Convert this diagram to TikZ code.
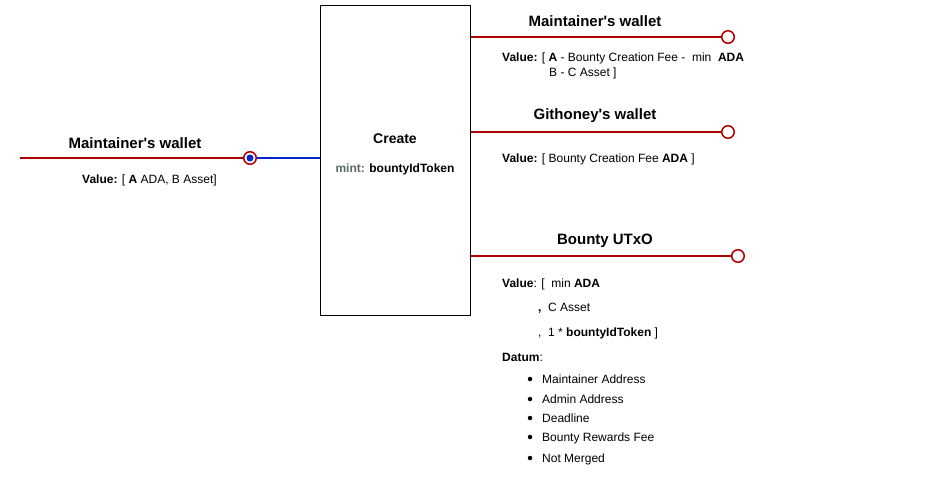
\documentclass[tikz,border=0pt]{standalone}
\usepackage{fontspec}
\setmainfont{Liberation Sans}
\definecolor{wred}{HTML}{B20000}
\definecolor{wblue}{HTML}{0027CC}
\definecolor{mintgray}{HTML}{5A6868}
\begin{document}
\begin{tikzpicture}[x=1pt,y=-1pt,
  title/.style={font=\fontsize{15}{18}\selectfont\bfseries, anchor=center, inner sep=0},
  txt/.style={font=\fontsize{12}{14}\selectfont, anchor=base west, inner sep=0},
  wline/.style={draw=wred, line width=1.6pt},
  endc/.style={circle, draw=wred, line width=1.5pt, fill=white, minimum size=12.5pt, inner sep=0},
  bul/.style={circle, fill=black, minimum size=4.5pt, inner sep=0}]
\useasboundingbox (0,0) rectangle (943,501);
% central box
\node[draw=black, line width=0.8pt, minimum width=150pt, minimum height=310pt, inner sep=0] (box) at (395.5,160.5) {};
\node[title, font=\fontsize{14}{16}\selectfont\bfseries] (create) at (395,139) {Create};
\node[font=\fontsize{12}{14}\selectfont\bfseries, inner sep=0] (mint) at (395,169) {\textcolor{mintgray}{mint:} bountyIdToken};

% left input
\coordinate (lstart) at (20,158);
\node[endc] (lc) at (250,158) {};
\node[circle, fill=wblue, minimum size=7pt, inner sep=0] (ldot) at (250,158) {};
\draw[wline] (lstart) -- (lc.west);
\draw[draw=wblue, line width=1.6pt] (lc.east) -- (box.west |- lc);
\node[title] (lt) at (135,143) {Maintainer\textquotesingle s wallet};
\node[txt] (lv) at (82,183) {\textbf{Value:} [ \textbf{A} ADA, B Asset]};

% output 1
\node[endc] (c1) at (728,37) {};
\draw[wline] (box.east |- c1) -- (c1.west);
\node[title] (t1) at (595,21) {Maintainer\textquotesingle s wallet};
\node[txt] (v1) at (502,61) {\textbf{Value:} [ \textbf{A} - Bounty Creation Fee -\ \ min\ \ \textbf{ADA}};
\node[txt] (v1b) at (549,76) {B - C Asset ]};

% output 2
\node[endc] (c2) at (728,132) {};
\draw[wline] (box.east |- c2) -- (c2.west);
\node[title] (t2) at (595,116) {Githoney\textquotesingle s wallet};
\node[txt] (v2) at (502,162) {\textbf{Value:} [ Bounty Creation Fee \textbf{ADA} ]};

% output 3
\node[endc] (c3) at (738,256) {};
\draw[wline] (box.east |- c3) -- (c3.west);
\node[title] (t3) at (605,241) {Bounty UTxO};
\node[txt] (v3) at (502,287) {\textbf{Value}: [\ \ min \textbf{ADA}};
\node[txt] (v3b) at (538,311) {\textbf{,}\ \ C Asset};
\node[txt] (v3c) at (538,336) {,\ \ 1 * \textbf{bountyIdToken} ]};
\node[txt] (d) at (502,361) {\textbf{Datum}:};
\foreach \y/\t [count=\i] in {383/Maintainer Address,403/Admin Address,422/Deadline,441/Bounty Rewards Fee,462/Not Merged}{
  \node[bul] (b\i) at (530,\y-4) {};
  \node[txt] (bt\i) at (542,\y) {\t};
}
\end{tikzpicture}
\end{document}
